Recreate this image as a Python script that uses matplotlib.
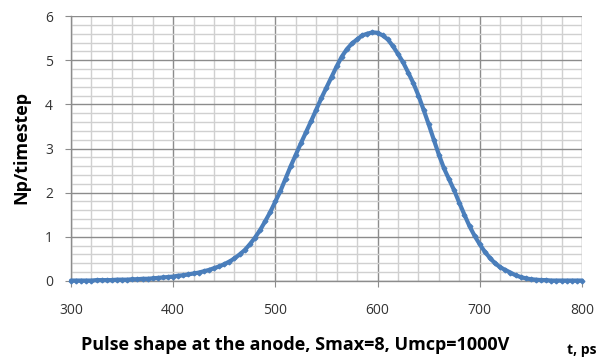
import matplotlib
matplotlib.use("Agg")
import matplotlib.pyplot as plt
from matplotlib.ticker import MultipleLocator

# pulse shape, every 5 ps
t_ps = list(range(300, 805, 5))
np_per_step = [
    0.01, 0.01, 0.01, 0.01, 0.01, 0.02, 0.02, 0.02, 0.02, 0.03,   # 300-345
    0.03, 0.03, 0.04, 0.04, 0.05, 0.05, 0.06, 0.07, 0.08, 0.09,   # 350-395
    0.10, 0.12, 0.13, 0.15, 0.17, 0.19, 0.22, 0.25, 0.29, 0.33,   # 400-445
    0.38, 0.44, 0.51, 0.60, 0.70, 0.83, 0.98, 1.15, 1.35, 1.56,   # 450-495
    1.80, 2.04, 2.32, 2.60, 2.86, 3.12, 3.37, 3.62, 3.88, 4.14,   # 500-545
    4.38, 4.62, 4.86, 5.08, 5.25, 5.38, 5.47, 5.56, 5.60, 5.63,   # 550-595
    5.62, 5.56, 5.47, 5.32, 5.14, 4.95, 4.72, 4.48, 4.20, 3.88,   # 600-645
    3.55, 3.20, 2.86, 2.55, 2.30, 2.05, 1.77, 1.50, 1.24, 1.02,   # 650-695
    0.83, 0.66, 0.52, 0.40, 0.31, 0.25, 0.19, 0.13, 0.09, 0.06,   # 700-745
    0.04, 0.03, 0.02, 0.02, 0.01, 0.01, 0.01, 0.01, 0.01, 0.01,   # 750-795
    0.01,                                                         # 800
]

xticks = [300, 400, 500, 600, 700, 800]
yticks = [0, 1, 2, 3, 4, 5, 6]

plt.rcParams['font.family'] = ['Open Sans', 'DejaVu Sans']

fig = plt.figure(figsize=(6.03, 3.59), dpi=100)
ax = fig.add_axes([0.1177, 0.2173, 0.8474, 0.7381])

ax.plot(t_ps, np_per_step, color='#4a7ebb', lw=3.0, marker='D', ms=2.4,
        mec='#4a7ebb', mfc='#4a7ebb', zorder=3, clip_on=False,
        solid_joinstyle='round', solid_capstyle='round')

ax.set_xlim(300, 800)
ax.set_ylim(0, 6)
ax.set_xticks(xticks)
ax.set_yticks(yticks)
ax.xaxis.set_minor_locator(MultipleLocator(20))
ax.yaxis.set_minor_locator(MultipleLocator(0.2))

ax.grid(which='major', color='#8c8c8c', lw=1.0)
ax.grid(which='minor', color='#d0d0d0', lw=1.0)
ax.set_axisbelow(True)

for s in ['top', 'right']:
    ax.spines[s].set_visible(False)
for s in ['left', 'bottom']:
    ax.spines[s].set_color('#8c8c8c')
    ax.spines[s].set_linewidth(1.0)

ax.tick_params(which='major', length=4, color='#8c8c8c', labelsize=10,
               labelcolor='#333333')
ax.tick_params(axis='x', which='major', pad=12)
ax.tick_params(axis='y', which='major', pad=9)
ax.tick_params(which='minor', length=0)

fig.text(0.489, 0.040, 'Pulse shape at the anode, Smax=8, Umcp=1000V',
         ha='center', va='center', fontsize=13, fontweight='bold')
fig.text(0.964, 0.026, 't, ps', ha='center', va='center', fontsize=10,
         fontweight='bold')
fig.text(0.036, 0.588, 'Np/timestep', ha='center', va='center', rotation=90,
         fontsize=13, fontweight='bold')

fig.savefig('out.png', dpi=100, facecolor='white')
